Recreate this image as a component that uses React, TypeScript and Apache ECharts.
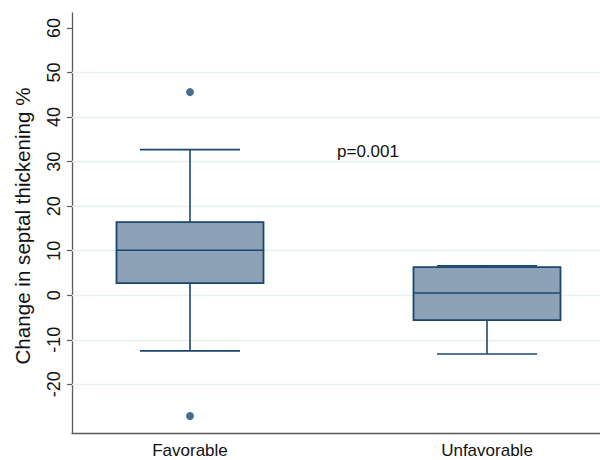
import React, { useEffect, useRef } from "react";
import * as echarts from "echarts";

// Group labels and their x positions on the value axis
const groups = ["Favorable", "Unfavorable"];
const groupPos = [1, 2];

// Box summaries: [lower whisker, Q1, median, Q3, upper whisker]
const favorableStats = [-12.5, 2.7, 10.1, 16.4, 32.7];
const unfavorableStats = [-13.2, -5.6, 0.5, 6.3, 6.6];

// Points beyond the whiskers
const favorableOutliers = [45.6, -27.1];

// Y axis ticks and grid lines
const yTicks = [-20, -10, 0, 10, 20, 30, 40, 50, 60];
const yGrid = [-20, -10, 0, 10, 20, 30, 40, 50];

const pValueText = "p=0.001";

const NAVY = "#1A476F";
const FILL = "#8DA2B7";
const FONT = "'Liberation Sans', Arial, sans-serif";

export default function App() {
  const ref = useRef<HTMLDivElement>(null);

  useEffect(() => {
    if (!ref.current) return;
    const chart = echarts.init(ref.current, null, { renderer: "svg" });

    const boxData = [
      [groupPos[0], ...favorableStats],
      [groupPos[1], ...unfavorableStats],
    ];
    const outlierData = favorableOutliers.map((v) => [groupPos[0], v]);

    const BOX_PX = 147;
    const CAP_PX = 100;

    chart.setOption({
      animation: false,
      backgroundColor: "#ffffff",
      textStyle: { fontFamily: FONT },
      grid: {
        left: 72,
        right: 0,
        top: 13,
        bottom: 27,
        containLabel: false,
        outerBoundsMode: "none",
      },
      xAxis: {
        type: "value",
        min: 0.6027,
        max: 2.3805,
        axisLine: { show: true, onZero: false, lineStyle: { color: "#5a5a5a", width: 1.3 } },
        axisTick: { show: false },
        splitLine: { show: false },
        axisLabel: {
          customValues: groupPos,
          formatter: (v: number) => groups[groupPos.indexOf(v)] ?? "",
          color: "#111",
          fontSize: 17,
          fontFamily: FONT,
          margin: 9,
        },
      },
      yAxis: {
        type: "value",
        min: -30.93,
        max: 63.37,
        name: "Change in septal thickening %",
        nameLocation: "middle",
        nameRotate: 90,
        nameGap: 39,
        nameTextStyle: {
          color: "#111",
          fontSize: 20.6,
          fontFamily: FONT,
          padding: [0, 6, 0, 0],
        },
        axisLine: { show: true, onZero: false, lineStyle: { color: "#5a5a5a", width: 1.3 } },
        axisTick: {
          show: true,
          customValues: yTicks,
          length: 5,
          lineStyle: { color: "#5a5a5a", width: 1.2 },
        },
        splitLine: { show: false },
        axisLabel: {
          customValues: yTicks,
          rotate: 90,
          color: "#111",
          fontSize: 18,
          fontFamily: FONT,
          margin: 9,
        },
      },
      graphic: [
        {
          type: "text",
          x: 368,
          y: 151,
          style: {
            text: pValueText,
            fill: "#111",
            font: `17px ${FONT}`,
            textAlign: "center",
            textVerticalAlign: "middle",
          },
        },
      ],
      series: [
        {
          type: "line",
          data: [],
          z: 1,
          silent: true,
          markLine: {
            z: 1,
            silent: true,
            symbol: "none",
            label: { show: false },
            lineStyle: { color: "#E6EFF1", type: "solid", width: 1.3 },
            data: yGrid.map((v) => ({ yAxis: v })),
          },
        },
        {
          type: "custom",
          z: 3,
          data: boxData,
          encode: { x: 0, y: [1, 2, 3, 4, 5] },
          renderItem: (_params: any, api: any) => {
            const x = api.value(0);
            const lo = api.coord([x, api.value(1)]);
            const q1 = api.coord([x, api.value(2)]);
            const md = api.coord([x, api.value(3)]);
            const q3 = api.coord([x, api.value(4)]);
            const hi = api.coord([x, api.value(5)]);
            const cx = lo[0];
            const hb = BOX_PX / 2;
            const hc = CAP_PX / 2;
            const lineStyle = { stroke: NAVY, lineWidth: 1.6, fill: null };
            return {
              type: "group",
              children: [
                { type: "line", shape: { x1: cx, y1: q3[1], x2: cx, y2: hi[1] }, style: lineStyle },
                { type: "line", shape: { x1: cx, y1: q1[1], x2: cx, y2: lo[1] }, style: lineStyle },
                {
                  type: "rect",
                  shape: { x: cx - hb, y: q3[1], width: BOX_PX, height: q1[1] - q3[1] },
                  style: { fill: FILL, stroke: NAVY, lineWidth: 1.8 },
                },
                { type: "line", shape: { x1: cx - hb, y1: md[1], x2: cx + hb, y2: md[1] }, style: lineStyle },
                { type: "line", shape: { x1: cx - hc, y1: hi[1], x2: cx + hc, y2: hi[1] }, style: lineStyle },
                { type: "line", shape: { x1: cx - hc, y1: lo[1], x2: cx + hc, y2: lo[1] }, style: lineStyle },
              ],
            };
          },
        },
        {
          type: "scatter",
          z: 4,
          data: outlierData,
          symbol: "circle",
          symbolSize: 8,
          itemStyle: { color: NAVY },
        },
      ],
    });

    return () => chart.dispose();
  }, []);

  return (
    <div
      ref={ref}
      style={{ position: "fixed", left: 0, top: 0, width: 600, height: 460 }}
    />
  );
}
